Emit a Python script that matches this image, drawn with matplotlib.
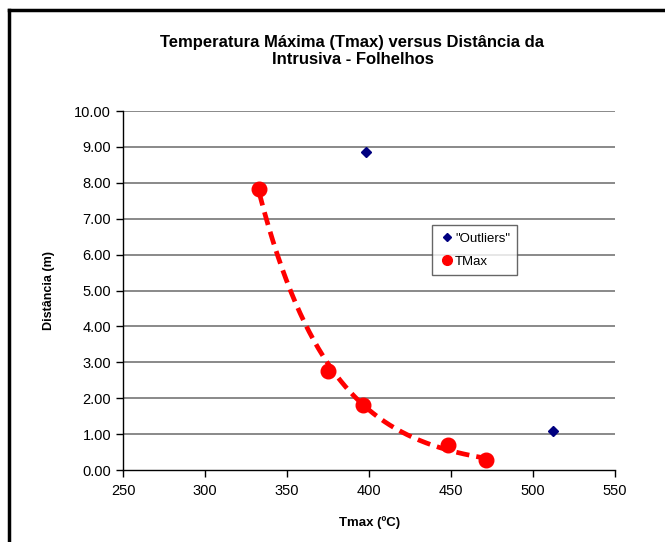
import numpy as np
import matplotlib.pyplot as plt
from matplotlib.lines import Line2D

plt.rcParams['font.family'] = ['Liberation Sans', 'DejaVu Sans']

# Tmax (ºC) vs distance from the intrusion (m)
tmax_x = [333, 375, 396, 448, 471]
tmax_y = [7.82, 2.77, 1.82, 0.70, 0.28]

# points left out of the fit
outlier_x = [398, 512]
outlier_y = [8.85, 1.08]

x_ticks = [250, 300, 350, 400, 450, 500, 550]
y_ticks = [0, 1, 2, 3, 4, 5, 6, 7, 8, 9, 10]

# exponential trendline fitted on the TMax points
b, a = np.polyfit(tmax_x, np.log(tmax_y), 1)
xfit = np.linspace(min(tmax_x), max(tmax_x), 200)
yfit = np.exp(a) * np.exp(b * xfit)

fig = plt.figure(figsize=(6.65, 5.42), dpi=100)
ax = fig.add_axes([0.185, 0.1328, 0.740, 0.6624])

for yv in y_ticks[1:]:
    ax.axhline(yv, color='#808080', lw=1.3, zorder=0)

ax.plot(xfit, yfit, color='#ff0000', lw=3.4, dashes=(2.8, 1.5), zorder=2)
ax.plot(tmax_x, tmax_y, 'o', color='#ff0000', ms=10.5, zorder=3)
ax.plot(outlier_x, outlier_y, 'D', color='#000080', ms=5, zorder=3)

ax.set_xlim(250, 550)
ax.set_ylim(0, 10)
ax.set_xticks(x_ticks)
ax.set_yticks(y_ticks)
ax.set_yticklabels(['%.2f' % v for v in y_ticks])
ax.tick_params(direction='out', length=5, width=1, labelsize=10.5, colors='black')
ax.tick_params(axis='x', pad=5)
ax.spines['top'].set_visible(False)
ax.spines['right'].set_visible(False)
ax.spines['left'].set_linewidth(1)
ax.spines['bottom'].set_linewidth(1)

ax.set_xlabel('Tmax (ºC)', fontsize=9.5, fontweight='bold', labelpad=13)
ax.set_ylabel('Distância (m)', fontsize=9, fontweight='bold', labelpad=14)

fig.text(0.53, 0.906, 'Temperatura Máxima (Tmax) versus Distância da\nIntrusiva - Folhelhos',
         ha='center', va='center', fontsize=12, fontweight='bold', linespacing=1.15)

legend_handles = [
    Line2D([], [], ls='none', marker='D', color='#000080', ms=4.5),
    Line2D([], [], ls='none', marker='o', color='#ff0000', ms=7),
]
leg = ax.legend(legend_handles, ['"Outliers"', 'TMax'], loc='upper left',
                bbox_to_anchor=(0.628, 0.682), borderaxespad=0, fontsize=9.5,
                frameon=True, fancybox=False, edgecolor='#404040',
                handletextpad=0.1, handlelength=1.1, borderpad=0.55,
                labelspacing=0.85)
leg.get_frame().set_linewidth(1)

# outer frame on the left and top
fig.add_artist(Line2D([0.0135, 0.0135], [0, 0.981], color='black', lw=2.5))
fig.add_artist(Line2D([0.0135, 1.0], [0.981, 0.981], color='black', lw=2.5))

fig.savefig('out.png', dpi=100)
